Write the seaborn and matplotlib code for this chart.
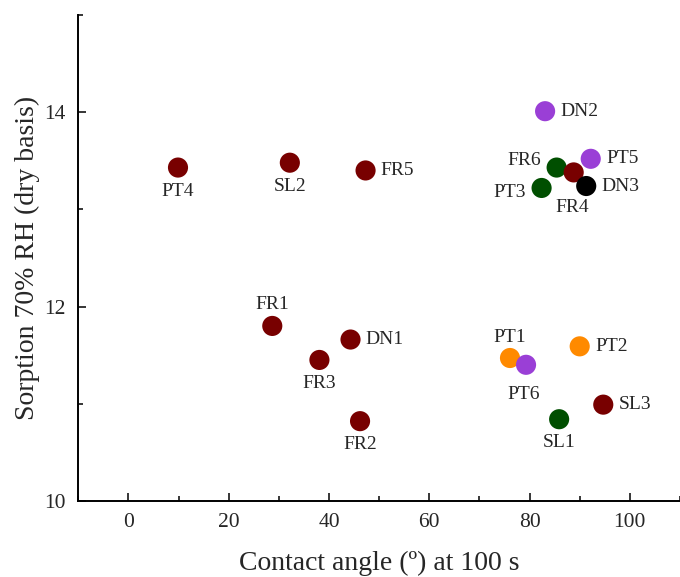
import matplotlib
matplotlib.use("Agg")
import matplotlib.pyplot as plt
from matplotlib.ticker import MultipleLocator
import seaborn as sns
import pandas as pd

labels = ["PT4", "SL2", "FR5", "FR1", "DN1", "FR3", "FR2", "DN2", "PT5",
          "FR6", "FR4", "DN3", "PT3", "PT1", "PT6", "PT2", "SL3", "SL1"]
contact_angle = [9.9, 32.2, 47.3, 28.7, 44.3, 38.1, 46.2, 83.1, 92.2,
                 85.4, 88.8, 91.3, 82.4, 76.1, 79.3, 90.0, 94.7, 85.9]
sorption = [13.43, 13.48, 13.40, 11.80, 11.66, 11.45, 10.82, 14.01, 13.52,
            13.43, 13.38, 13.24, 13.22, 11.47, 11.40, 11.59, 10.99, 10.84]
group = ["red", "red", "red", "red", "red", "red", "red", "purple", "purple",
         "green", "red", "black", "green", "orange", "purple", "orange", "red", "green"]
label_pos = ["below", "below", "right", "above", "right", "below", "below", "right", "right",
             "left", "below", "right", "left", "above", "below", "right", "right", "below"]

palette = {"red": "#780000", "green": "#004f00", "purple": "#9a3fd6",
           "orange": "#ff8a00", "black": "#000000"}

df = pd.DataFrame({"x": contact_angle, "y": sorption, "g": group, "lab": labels, "pos": label_pos})

sns.set_style("ticks")
plt.rcParams["font.family"] = ["Liberation Serif", "DejaVu Serif"]

fig = plt.figure(figsize=(6.8, 5.77), dpi=100)
ax = fig.add_axes([0.115, 0.132, 0.885, 0.842])

sns.scatterplot(data=df, x="x", y="y", hue="g", palette=palette, s=210,
                edgecolor="none", legend=False, ax=ax, zorder=3)

offsets = {"below": (0, -11, "center", "top"),
           "above": (0, 9, "center", "bottom"),
           "right": (11, 0, "left", "center"),
           "left": (-11, 0, "right", "center")}
for _, r in df.iterrows():
    dx, dy, ha, va = offsets[r["pos"]]
    if r["lab"] == "FR6":
        dy = 5
    if r["lab"] == "PT3":
        dy = -3
    if r["lab"] == "PT6":
        dx, dy = -2, -15
    if r["lab"] == "FR4":
        dx, dy = -1, -19
    ax.annotate(r["lab"], (r["x"], r["y"]), xytext=(dx, dy), textcoords="offset points",
                ha=ha, va=va, fontsize=14)

ax.set_xlim(-10, 110)
ax.set_ylim(10, 15)
ax.xaxis.set_major_locator(MultipleLocator(20))
ax.xaxis.set_minor_locator(MultipleLocator(10))
ax.yaxis.set_major_locator(MultipleLocator(2))
ax.yaxis.set_minor_locator(MultipleLocator(1))
ax.tick_params(which="major", direction="in", length=6, width=1.3, labelsize=15.5, pad=9)
ax.tick_params(which="minor", direction="in", length=3.5, width=1.3)
for s in ["top", "right"]:
    ax.spines[s].set_visible(False)
for s in ["left", "bottom"]:
    ax.spines[s].set_linewidth(1.4)
    ax.spines[s].set_color("black")

ax.set_xlabel("Contact angle (º) at 100 s", fontsize=20, labelpad=13)
ax.set_ylabel("Sorption 70% RH (dry basis)", fontsize=20, labelpad=3)

fig.savefig("out.png", dpi=100)
